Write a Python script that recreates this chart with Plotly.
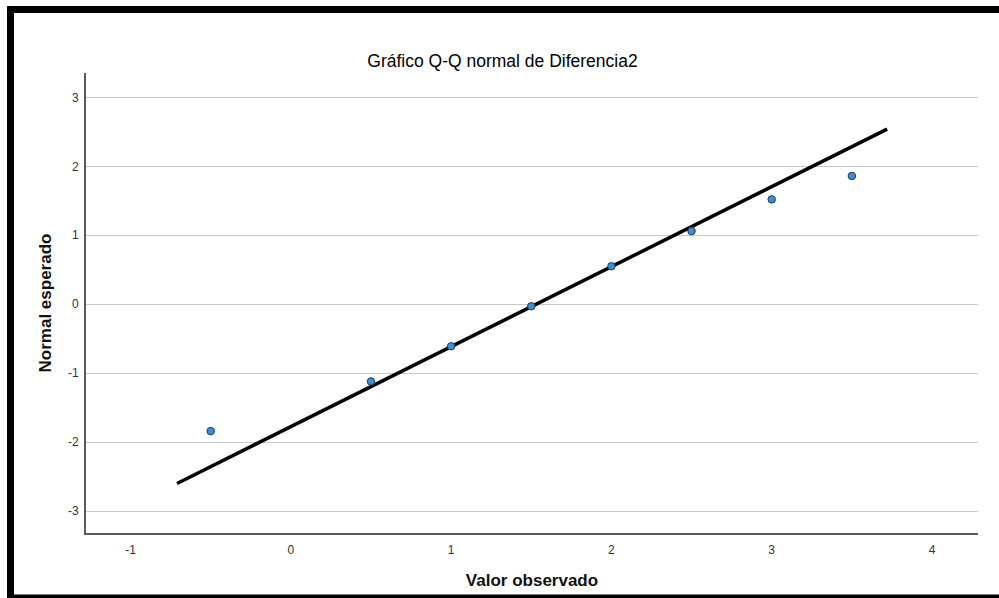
import plotly.graph_objects as go

# Data
observed = [-0.5, 0.5, 1.0, 1.5, 2.0, 2.5, 3.0, 3.5]
expected = [-1.84, -1.12, -0.61, -0.03, 0.55, 1.06, 1.52, 1.86]
line_x = [-0.71, 3.72]
line_y = [-2.60, 2.54]
x_ticks = [-1, 0, 1, 2, 3, 4]
x_tick_labels = ["-1", "0", "1", "2", "3", "4"]
y_ticks = [-3, -2, -1, 0, 1, 2, 3]
y_tick_labels = ["-3", "-2", "-1", "0", "1", "2", "3"]

W, H = 999, 598
L, R, T, B = 86, 978, 73, 533  # plot area in pixels

def px(xp):
    return (xp - L) / (R - L)

def py(yp):
    return (B - yp) / (B - T)

fig = go.Figure()
fig.add_trace(go.Scatter(x=line_x, y=line_y, mode="lines",
                         line=dict(color="black", width=3.5),
                         hoverinfo="skip", showlegend=False))
fig.add_trace(go.Scatter(x=observed, y=expected, mode="markers",
                         marker=dict(size=7.5, color="#3f8fcf",
                                     line=dict(color="#1d3b5a", width=1)),
                         showlegend=False))

font = "Liberation Sans, Arial, sans-serif"

shapes = [
    # black frame pieces (decoration of the screenshot)
    dict(type="rect", xref="paper", yref="paper", x0=px(7), x1=px(14), y0=py(598), y1=py(6),
         fillcolor="black", line=dict(width=0), layer="above"),
    dict(type="rect", xref="paper", yref="paper", x0=px(7), x1=px(999), y0=py(13), y1=py(6),
         fillcolor="black", line=dict(width=0), layer="above"),
    dict(type="rect", xref="paper", yref="paper", x0=px(7), x1=px(999), y0=py(598), y1=py(594.5),
         fillcolor="black", line=dict(width=0), layer="above"),
]

fig.update_layout(
    width=W, height=H,
    margin=dict(l=L, r=W - R, t=T, b=H - B),
    paper_bgcolor="white", plot_bgcolor="white",
    font=dict(family=font, color="#333333", size=12),
    title=dict(text="Gráfico Q-Q normal de Diferencia2", xref="container", x=0.503,
               yref="container", y=1 - 61 / H, xanchor="center", yanchor="middle",
               font=dict(family=font, size=17.5, color="#000000")),
    shapes=shapes,
    showlegend=False,
)
fig.update_xaxes(range=[-1.278, 4.287], tickvals=x_ticks, ticktext=x_tick_labels,
                 showgrid=False, zeroline=False,
                 showline=True, linecolor="#5a5a5a", linewidth=2,
                 ticks="outside", ticklen=5, tickcolor="rgba(0,0,0,0)",
                 tickfont=dict(size=12, color="#333333"),
                 title=dict(text="Valor observado", standoff=18,
                            font=dict(family=font, size=17, color="#111111", weight="bold")))
fig.update_yaxes(range=[-3.318, 3.353], tickvals=y_ticks, ticktext=y_tick_labels,
                 showgrid=True, gridcolor="#c8c8c8",
                 gridwidth=1, zeroline=False,
                 showline=True, linecolor="#5a5a5a", linewidth=2,
                 ticks="outside", ticklen=3, tickcolor="rgba(0,0,0,0)",
                 tickfont=dict(size=12, color="#333333"),
                 title=dict(text="Normal esperado", standoff=12,
                            font=dict(family=font, size=17, color="#111111", weight="bold")))

fig.write_html("out.html", config={"displayModeBar": False},
               post_script="document.body.style.margin='0px';document.body.style.padding='0px';")
